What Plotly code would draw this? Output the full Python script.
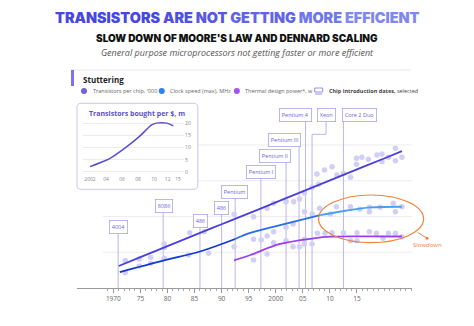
import plotly.graph_objects as go

# ---------------- data ----------------
# Trend lines (log scale values)
trans_line_years = [1971, 1975, 1980, 1985, 1990, 1995, 2000, 2005, 2010, 2015, 2020, 2023.3]
trans_line = [1.7, 5.3, 22, 90, 370, 1500, 6200, 25500, 104000, 430000, 1760000, 4500000]

clock_line_years = [1971.2, 1979.2, 1986.0, 1992.5, 1995.3, 2000.8, 2008.2, 2012.9, 2017.5, 2023.3]
clock_line = [0.78, 3.4, 11, 55, 120, 330, 1200, 2100, 3200, 3500]

tdp_line_years = [1992.3, 1995.3, 2000.8, 2007.0, 2010.1, 2015.6, 2023.3]
tdp_line = [3.5, 7.0, 29, 60, 74, 78, 76]

# Scatter dots
trans_dot_years = [1972.2, 1974.8, 1976.9, 1979.4, 1979.4, 1984.1, 1986.8, 1992.3, 1995.9, 1998.4,
                   1999.6, 2001.9, 2003.3, 2004.4, 2005.3, 2006.7, 2007.6, 2007.9, 2009.0, 2010.4,
                   2011.3, 2012.5, 2013.8, 2014.9, 2014.9, 2015.9, 2017.1, 2018.7, 2019.6, 2019.6,
                   2020.8, 2022.1, 2022.1, 2023.3]
trans_dots = [3.4, 4.2, 5.2, 29, 18, 124, 141, 1330, 975, 2870,
              5470, 6730, 6730, 9530, 21400, 43000, 238000, 63200, 399000, 611000,
              209000, 261000, 156000, 1800000, 832000, 2050000, 1580000, 2750000, 3130000, 1160000,
              2050000, 6500000, 1320000, 2050000]

clock_dot_years = [1972.2, 1974.8, 1976.9, 1979.4, 1983.9, 1987.6, 1992.3, 1995.9, 1997.3, 1998.4,
                   1999.6, 2001.9, 2003.2, 2005.3, 2006.7, 2008.1, 2010.1, 2011.2, 2013.8, 2015.5,
                   2017.3, 2017.3, 2019.3, 2021.7, 2022.1, 2023.3]
clock_dots = [0.72, 1.7, 2.4, 4.6, 7.0, 8.7, 20, 53, 48, 81,
              141, 249, 380, 1850, 1380, 2870, 1380, 3530, 3530, 2520,
              3270, 1850, 3270, 5470, 1850, 3530]

tdp_dot_years = [1995.9, 1998.4, 1999.6, 2001.9, 2003.2, 2004.4, 2005.3, 2005.3, 2006.7, 2007.7,
                 2009.1, 2010.4, 2012.5, 2013.8, 2015.0, 2015.0, 2017.3, 2018.6, 2019.8, 2020.8,
                 2022.1, 2023.3]
tdp_dots = [3.7, 8.0, 34, 44, 20, 20, 53, 29, 29, 115,
            115, 124, 124, 44, 124, 44, 141, 115, 60, 115,
            115, 74]

# Chip introduction dates
chip_names = ['4004', '8086', '486', '486', 'Pentium', 'Pentium I', 'Pentium II',
              'Pentium III', 'Pentium 4', 'Xeon', 'Core 2 Duo']
chip_years = [1970.9, 1979.2, 1986.0, 1990.0, 1992.5, 1997.25, 2001.9, 2004.3, 2005.5, 2006.7, 2012.5]

# Inset: transistors bought per $, m
inset_years = [2002, 2004.1, 2004.7, 2006.6, 2008.25, 2009.7, 2010.3, 2011.6, 2012.4]
inset_values = [2.2, 4.9, 6.0, 10.4, 14.8, 19.3, 20.0, 20.0, 18.9]
inset_tick_vals = [2002, 2004, 2006, 2008, 2010, 2011.7, 2013]
inset_tick_text = ['2002', '04', '06', '08', '10', '12', '15']

x_tick_vals = [1970, 1975, 1980, 1985, 1990, 1995, 2000, 2005, 2010, 2015]
x_tick_text = ['1970', '75', '80', '85', '90', '95', '2000', '05', '10', '15']

# ---------------- layout helpers (pixel -> paper) ----------------
W, H = 474, 326
PL, PR, PT, PB = 77, 411.7, 100, 288


def px(x):
    return (x - PL) / (PR - PL)


def py(y):
    return (PB - y) / (PB - PT)


# chip label positions (layout)
label_x = [1971.0, 1979.3, 1986.1, 1990.0, 1992.4, 1997.2, 1999.9, 2001.7, 2003.6, 2009.3, 2015.4]
label_ypx = [227.3, 206, 221.3, 207.5, 192, 171.7, 155.7, 139.5, 115.3, 115.3, 115.3]

DOT = '#d2cff6'
FONT = 'Open Sans'

fig = go.Figure()

# dots
for xs, ys in [(trans_dot_years, trans_dots), (clock_dot_years, clock_dots), (tdp_dot_years, tdp_dots)]:
    fig.add_trace(go.Scatter(x=xs, y=ys, mode='markers',
                             marker=dict(size=5.5, color=DOT, line=dict(width=0)),
                             showlegend=False, hoverinfo='skip'))

# lines
fig.add_trace(go.Scatter(x=trans_line_years, y=trans_line, mode='lines',
                         line=dict(color='#4a3fd8', width=1.8, shape='spline'),
                         showlegend=False))
for sl, col in [(slice(0, 4), '#1238d4'), (slice(3, 7), '#2a6ee6'), (slice(6, 10), '#49a0f2')]:
    fig.add_trace(go.Scatter(x=clock_line_years[sl], y=clock_line[sl], mode='lines',
                             line=dict(color=col, width=1.8, shape='spline'),
                             showlegend=False))
fig.add_trace(go.Scatter(x=tdp_line_years, y=tdp_line, mode='lines',
                         line=dict(color='#9b3df0', width=1.8, shape='spline'),
                         showlegend=False))

# inset line
fig.add_trace(go.Scatter(x=inset_years, y=inset_values, mode='lines', xaxis='x2', yaxis='y2',
                         line=dict(color='#5a4fd0', width=1.5, shape='spline'),
                         showlegend=False))

shapes = []
annotations = []

# main gridlines (paper refs, drawn first)
for L, xstart in [(1, 103), (3, 103), (5, 197.7), (7, 197.7)]:
    yy = (L + 1) / 10.517
    shapes.append(dict(type='line', xref='paper', yref='paper', x0=px(xstart), x1=1.0,
                       y0=yy, y1=yy, line=dict(color='#ececf2', width=1), layer='below'))

# inset rounded box
x0, x1, y0, y1 = px(77), px(197.7), py(189.3), py(103.3)
rx, ry = 4 / (PR - PL), 4 / (PB - PT)
path = (f'M {x0+rx},{y0} L {x1-rx},{y0} Q {x1},{y0} {x1},{y0+ry} L {x1},{y1-ry} '
        f'Q {x1},{y1} {x1-rx},{y1} L {x0+rx},{y1} Q {x0},{y1} {x0},{y1-ry} '
        f'L {x0},{y0+ry} Q {x0},{y0} {x0+rx},{y0} Z')
shapes.append(dict(type='path', xref='paper', yref='paper', path=path,
                   fillcolor='white', line=dict(color='#c9c5f0', width=1), layer='below'))

# chip vertical lines
LINE_C = '#b9b5ef'
for name, cx, lx, lyp in zip(chip_names, chip_years, label_x, label_ypx):
    if name == 'Xeon':
        ye = py(134.3)
        shapes.append(dict(type='line', xref='x', yref='paper', x0=cx, x1=cx, y0=0, y1=ye,
                           line=dict(color=LINE_C, width=1), layer='below'))
        shapes.append(dict(type='line', xref='x', yref='paper', x0=cx, x1=lx, y0=ye, y1=ye,
                           line=dict(color=LINE_C, width=1), layer='below'))
        shapes.append(dict(type='line', xref='x', yref='paper', x0=lx, x1=lx, y0=ye, y1=py(lyp),
                           line=dict(color=LINE_C, width=1), layer='below'))
    else:
        shapes.append(dict(type='line', xref='x', yref='paper', x0=cx, x1=cx, y0=0, y1=py(lyp),
                           line=dict(color=LINE_C, width=1), layer='below'))
    annotations.append(dict(x=lx, y=py(lyp), xref='x', yref='paper', text=name, showarrow=False,
                            font=dict(family=FONT, size=5.5, color='#6d66dc'),
                            bgcolor='white', bordercolor='#aaa5ee', borderwidth=0.8, borderpad=2,
                            xanchor='center', yanchor='middle'))

# slowdown ellipse
shapes.append(dict(type='circle', xref='paper', yref='paper',
                   x0=px(318.3), x1=px(423.3), y0=py(242.7), y1=py(195),
                   line=dict(color='#f0823e', width=1.2), layer='above'))
shapes.append(dict(type='line', xref='paper', yref='paper', x0=px(417.5), x1=px(426.7),
                   y0=py(232.5), y1=py(238.3), line=dict(color='#f0823e', width=1), layer='above'))
shapes.append(dict(type='circle', xref='paper', yref='paper', x0=px(425.2), x1=px(428.2),
                   y0=py(239.8), y1=py(236.8), fillcolor='#f0823e', line=dict(width=0), layer='above'))
annotations.append(dict(x=px(426.7), y=py(245), xref='paper', yref='paper', text='Slowdown',
                        showarrow=False, font=dict(family=FONT, size=6, color='#f0823e'),
                        xanchor='center', yanchor='middle'))

# header block
shapes.append(dict(type='line', xref='paper', yref='paper', x0=px(71), x1=px(410),
                   y0=py(70), y1=py(70), line=dict(color='#e6e4f2', width=1)))
shapes.append(dict(type='rect', xref='paper', yref='paper', x0=px(71), x1=px(74),
                   y0=py(86), y1=py(70), fillcolor='#7c72ee', line=dict(width=0)))
annotations.append(dict(x=px(80.7), y=py(79), xref='paper', yref='paper', text='<b>Stuttering</b>',
                        showarrow=False, font=dict(family=FONT, size=8, color='#222222'),
                        xanchor='left', yanchor='middle'))

legend_items = [(84, '#6c63e0', "Transistors per chip, '000"),
                (161.7, '#2f80f0', 'Clock speed (max), MHz'),
                (236.7, '#a452f2', 'Thermal design power*, w')]
for cx, col, txt in legend_items:
    shapes.append(dict(type='circle', xref='paper', yref='paper', x0=px(cx - 3), x1=px(cx + 3),
                       y0=py(94), y1=py(88), fillcolor=col, line=dict(width=0)))
    annotations.append(dict(x=px(cx + 6.5), y=py(91), xref='paper', yref='paper', text=txt,
                            showarrow=False, font=dict(family=FONT, size=5.5, color='#666666'),
                            xanchor='left', yanchor='middle'))
shapes.append(dict(type='rect', xref='paper', yref='paper', x0=px(314.5), x1=px(322.5),
                   y0=py(92), y1=py(88), line=dict(color='#7b73e8', width=0.8)))
shapes.append(dict(type='line', xref='paper', yref='paper', x0=px(315), x1=px(322),
                   y0=py(94), y1=py(94), line=dict(color='#7b73e8', width=0.8)))
annotations.append(dict(x=px(326.5), y=py(91), xref='paper', yref='paper',
                        text='<b>Chip introduction dates,</b> selected', showarrow=False,
                        font=dict(family=FONT, size=5.5, color='#444444'),
                        xanchor='left', yanchor='middle'))

# titles
title_words = [('TRANSISTORS', '#4747e2'), ('ARE', '#5050e4'), ('NOT', '#5757e5'),
               ('GETTING', '#6264e8'), ('MORE', '#7077eb'), ('EFFICIENT', '#7f88ef')]
title_html = ' '.join(f'<span style="color:{c}">{w}</span>' for w, c in title_words)
annotations.append(dict(x=px(237.5), y=py(17), xref='paper', yref='paper', text=title_html,
                        showarrow=False, font=dict(family='Inter', size=14.4, weight=900),
                        xanchor='center', yanchor='middle'))
annotations.append(dict(x=px(237), y=py(38), xref='paper', yref='paper',
                        text="SLOW DOWN OF MOORE'S LAW AND DENNARD SCALING", showarrow=False,
                        font=dict(family='Inter', size=10, weight=900, color='#111111'),
                        xanchor='center', yanchor='middle'))
annotations.append(dict(x=px(237), y=py(52), xref='paper', yref='paper',
                        text='General purpose microprocessors not getting faster or more efficient',
                        showarrow=False,
                        font=dict(family=FONT, size=9, style='italic', color='#555555'),
                        xanchor='center', yanchor='middle'))

# inset title
annotations.append(dict(x=px(86.5), y=py(113), xref='paper', yref='paper',
                        text='<b>Transistors bought per $, m</b>', showarrow=False,
                        font=dict(family=FONT, size=7, color='#5a50d0'),
                        xanchor='left', yanchor='middle'))

fig.update_layout(
    width=W, height=H,
    margin=dict(l=PL, r=W - PR, t=PT, b=H - PB, pad=0),
    paper_bgcolor='white', plot_bgcolor='rgba(0,0,0,0)',
    showlegend=False,
    xaxis=dict(range=[1963.29, 2025.16], showgrid=False, zeroline=False, showline=True,
               linecolor='#9a9a9a', linewidth=1, ticks='outside', ticklen=4, tickcolor='#9a9a9a',
               tickvals=x_tick_vals, ticktext=x_tick_text,
               tickfont=dict(family=FONT, size=6.5, color='#666666'),
               minor=dict(ticks='outside', ticklen=2, tickcolor='#aaaaaa',
                          tickvals=list(range(1969, 2026)))),
    yaxis=dict(type='log', range=[-1, 9.517], visible=False),
    xaxis2=dict(domain=[px(83), px(184)], anchor='y2', range=[2001.125, 2013.75],
                showgrid=False, zeroline=False, showline=False,
                tickvals=inset_tick_vals, ticktext=inset_tick_text,
                tickfont=dict(family=FONT, size=5, color='#888888')),
    yaxis2=dict(domain=[py(175), py(118)], anchor='x2', range=[-1.23, 22.1], side='right',
                showgrid=True, gridcolor='#ececf0', gridwidth=1, zeroline=False,
                tickvals=[0, 5, 10, 15, 20],
                tickfont=dict(family=FONT, size=5, color='#888888')),
    shapes=shapes,
    annotations=annotations,
)

fig.write_html('out.html')
